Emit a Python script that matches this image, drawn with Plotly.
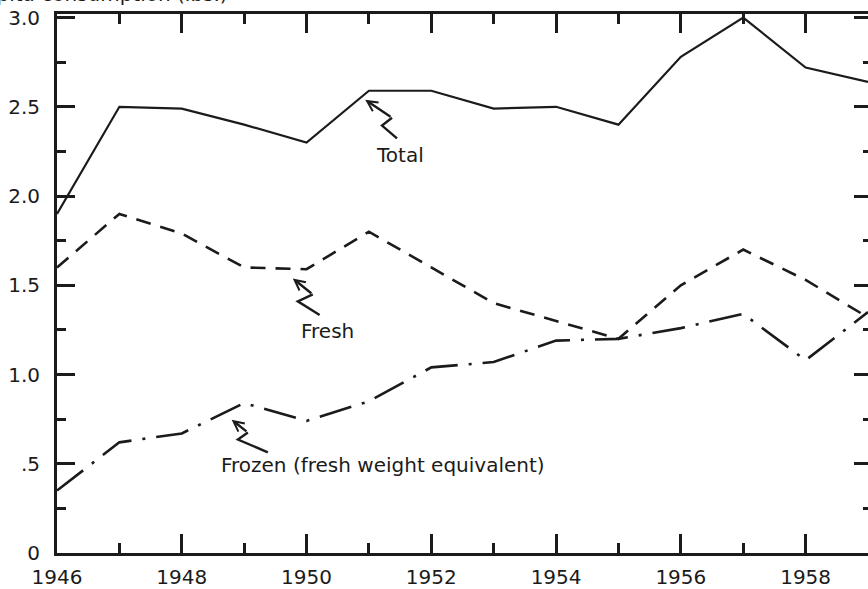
import plotly.graph_objects as go

# Annual figures, 1946-1959
years = list(range(1946, 1960))
total = [1.90, 2.50, 2.49, 2.40, 2.30, 2.59, 2.59, 2.49, 2.50, 2.40, 2.78, 3.00, 2.72, 2.64]
fresh = [1.60, 1.90, 1.79, 1.60, 1.59, 1.80, 1.60, 1.40, 1.30, 1.20, 1.50, 1.70, 1.53, 1.32]
frozen = [0.35, 0.62, 0.67, 0.84, 0.74, 0.85, 1.04, 1.07, 1.19, 1.20, 1.26, 1.34, 1.08, 1.35]

y_tickvals = [0, 0.5, 1.0, 1.5, 2.0, 2.5, 3.0]
y_ticktext = ["0", ".5", "1.0", "1.5", "2.0", "2.5", "3.0"]
x_tickvals = [1946, 1948, 1950, 1952, 1954, 1956, 1958]
x_ticktext = ["1946", "1948", "1950", "1952", "1954", "1956", "1958"]

INK = "#1b1b1b"
FONT = "DejaVu Sans"

fig = go.Figure()
fig.add_trace(go.Scatter(x=years, y=total, mode="lines",
                         line=dict(color=INK, width=2.2), hoverinfo="skip"))
fig.add_trace(go.Scatter(x=years, y=fresh, mode="lines",
                         line=dict(color=INK, width=2.6, dash="15px,10px"), hoverinfo="skip"))
fig.add_trace(go.Scatter(x=years, y=frozen, mode="lines",
                         line=dict(color=INK, width=2.6, dash="33px,11px,3px,11px"), hoverinfo="skip"))
# carrier trace so the right-hand tick axis is drawn
fig.add_trace(go.Scatter(x=years[:1], y=total[:1], mode="markers", yaxis="y2",
                         marker=dict(opacity=0), hoverinfo="skip"))

# Zig-zag pointers: (head, bend1, bend2, tail) in data units, plus label position
pointers = [
    ("Total", [(1950.94, 2.539), (1951.37, 2.439), (1951.21, 2.395), (1951.45, 2.323)], (1951.50, 2.229)),
    ("Fresh", [(1949.78, 1.538), (1950.10, 1.449), (1949.86, 1.410), (1950.21, 1.333)], (1950.34, 1.244)),
    ("Frozen (fresh weight equivalent)",
     [(1948.80, 0.747), (1949.06, 0.675), (1948.90, 0.636), (1949.38, 0.564)], (1951.22, 0.492)),
]

shapes = []
annotations = []
for label, pts, (tx, ty) in pointers:
    (hx, hy), (b1x, b1y), (b2x, b2y), (sx, sy) = pts
    shapes.append(dict(type="path", xref="x", yref="y",
                       path=f"M {b1x},{b1y} L {b2x},{b2y} L {sx},{sy}",
                       line=dict(color=INK, width=2.4)))
    annotations.append(dict(x=hx, y=hy, ax=b1x, ay=b1y, xref="x", yref="y",
                            axref="x", ayref="y", text="", showarrow=True,
                            arrowhead=5, arrowsize=0.85, arrowwidth=2.4, arrowcolor=INK))
    annotations.append(dict(x=tx, y=ty, xref="x", yref="y", text=label, showarrow=False,
                            font=dict(family=FONT, size=20, color=INK)))

# heading above the frame, partly running off the top of the page
annotations.append(dict(x=0, xref="paper", xanchor="right", xshift=173,
                        y=1.011, yref="paper", yanchor="bottom",
                        text="Per capita consumption (lbs.)", showarrow=False,
                        font=dict(family=FONT, size=20, color=INK)))

axis_common = dict(showgrid=False, zeroline=False, ticks="inside", tickwidth=3,
                   tickcolor=INK, tickfont=dict(family=FONT, size=20, color=INK))

fig.update_layout(
    width=868, height=589,
    margin=dict(l=57, r=0, t=14, b=29),
    paper_bgcolor="white", plot_bgcolor="white",
    showlegend=False,
    shapes=shapes, annotations=annotations,
    xaxis=dict(range=[1946, 1959.0], tickvals=x_tickvals, ticktext=x_ticktext,
               ticklen=19, showline=True, linewidth=3, linecolor=INK, mirror="ticks",
               ticklabelstandoff=4,
               minor=dict(dtick=1, tick0=1946, ticks="inside", ticklen=10,
                          tickwidth=3, tickcolor=INK),
               **axis_common),
    yaxis=dict(range=[0, 3.02], tickvals=y_tickvals, ticktext=y_ticktext,
               ticklen=18, showline=True, linewidth=3, linecolor=INK, mirror=False,
               ticklabelstandoff=10,
               minor=dict(dtick=0.25, tick0=0, ticks="inside", ticklen=9,
                          tickwidth=3, tickcolor=INK),
               **axis_common),
    yaxis2=dict(range=[0, 3.02], overlaying="y", side="right", showticklabels=False,
                showline=False, showgrid=False, zeroline=False, ticks="inside",
                tickvals=y_tickvals, ticklen=14, tickwidth=3, tickcolor=INK,
                minor=dict(dtick=0.25, tick0=0, ticks="inside", ticklen=5,
                           tickwidth=3, tickcolor=INK)),
)

fig.write_html("out.html")
